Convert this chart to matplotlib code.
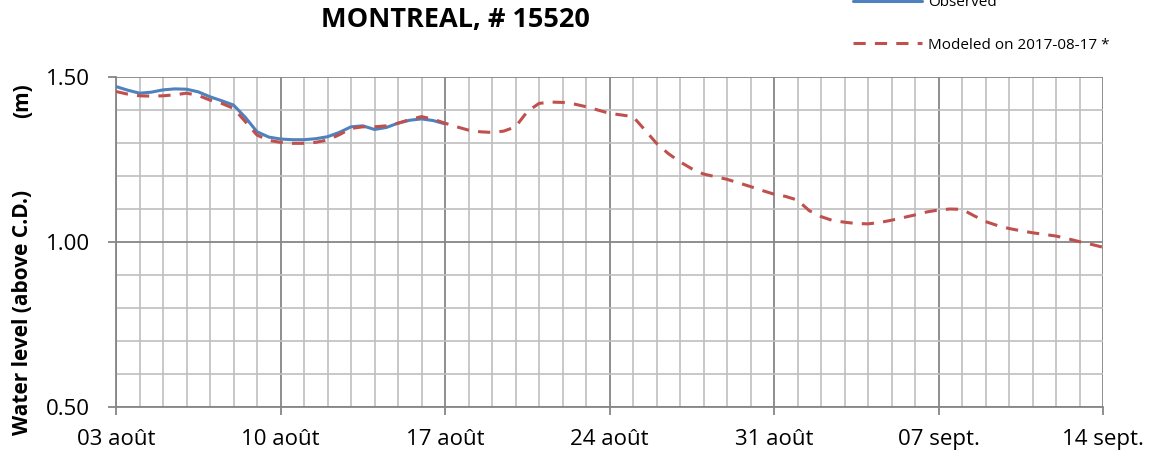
import matplotlib.pyplot as plt
import numpy as np

plt.rcParams['font.family'] = ['Open Sans', 'DejaVu Sans']

# jours depuis le 03 août
obs_days = [0, 0.5, 1, 1.5, 2, 2.5, 3, 3.5, 4, 4.5, 5, 5.5, 6, 6.5, 7, 7.5, 8, 8.5, 9, 9.5,
            10, 10.5, 11, 11.5, 12, 12.5, 13, 13.5, 14]
obs_level = [1.471, 1.460, 1.451, 1.454, 1.461, 1.464, 1.463, 1.455, 1.440, 1.428, 1.415, 1.378,
             1.334, 1.318, 1.312, 1.310, 1.310, 1.313, 1.319, 1.332, 1.349, 1.352, 1.341, 1.347,
             1.360, 1.369, 1.373, 1.368, 1.358]

mod_days = [0, 0.5, 1, 1.5, 2, 2.5, 3, 3.5, 4, 4.5, 5, 5.5, 6, 6.5, 7, 7.5, 8, 8.5, 9, 9.5,
            10, 10.5, 11, 11.5, 12, 12.5, 13, 13.5, 14, 14.5, 15, 15.5, 16, 16.5, 17, 17.5, 18, 18.5,
            19, 19.5, 20, 20.5, 21, 21.5, 22, 22.5, 23, 23.5, 24, 24.5, 25, 25.5, 26, 26.5, 27, 27.5,
            28, 28.5, 29, 29.5, 30, 30.5, 31, 31.5, 32, 32.5, 33, 33.5, 34, 34.5, 35, 35.5, 36, 36.5,
            37, 37.5, 38, 38.5, 39, 39.5, 40, 40.5, 41, 41.5, 42]
mod_level = [1.456, 1.448, 1.443, 1.442, 1.443, 1.446, 1.451, 1.444, 1.430, 1.420, 1.405, 1.365,
             1.324, 1.308, 1.302, 1.299, 1.299, 1.302, 1.309, 1.325, 1.344, 1.349, 1.349, 1.352,
             1.360, 1.371, 1.380, 1.372, 1.360, 1.349, 1.339, 1.334, 1.332, 1.336, 1.349, 1.395,
             1.420, 1.424, 1.423, 1.418, 1.410, 1.400, 1.390, 1.385, 1.380, 1.340, 1.299, 1.268,
             1.243, 1.222, 1.206, 1.198, 1.190, 1.179, 1.168, 1.156, 1.145, 1.138, 1.127, 1.095,
             1.077, 1.065, 1.060, 1.056, 1.055, 1.059, 1.066, 1.074, 1.082, 1.091, 1.097, 1.100,
             1.099, 1.080, 1.062, 1.050, 1.041, 1.034, 1.028, 1.023, 1.018, 1.010, 1.001, 0.993,
             0.984]

tick_days = [0, 7, 14, 21, 28, 35, 42]
tick_labels = ['03 août', '10 août', '17 août', '24 août', '31 août', '07 sept.', '14 sept.']

fig = plt.figure(figsize=(11.49, 4.61), dpi=100)
ax = fig.add_axes([116/1149, 1-407/461, 987/1149, 330/461])

minor_c = '#BFBFBF'
major_c = '#868686'

#grille
for d in range(0, 43):
    ax.axvline(d, color=major_c if d % 7 == 0 else minor_c, lw=1.3 if d % 7 == 0 else 1.2, zorder=1)
for v in np.arange(0.5, 1.51, 0.1):
    major = abs(v*2 - round(v*2)) < 1e-6
    ax.axhline(v, color=major_c if major else minor_c, lw=1.3 if major else 1.2, zorder=1)

l1, = ax.plot(obs_days, obs_level, color='#4F81BD', lw=2.2, zorder=3, solid_capstyle='round')
l2, = ax.plot(mod_days, mod_level, color='#C0504D', lw=2.2, ls=(0, (4, 3)), zorder=4)

ax.set_xlim(0, 42)
ax.set_ylim(0.5, 1.5)
ax.set_xticks(tick_days)
ax.set_xticklabels(tick_labels)
ax.set_yticks([0.5, 1.0, 1.5])
ax.set_yticklabels(['0.50', '1.00', '1.50'])
ax.tick_params(axis='both', labelsize=16, colors=major_c, labelcolor='black', length=5.5, width=1.3)
ax.tick_params(axis='y', pad=13)
ax.tick_params(axis='x', pad=10)
for s in ['top', 'right']:
    ax.spines[s].set_visible(False)
for s in ['left', 'bottom']:
    ax.spines[s].set_color(major_c)
    ax.spines[s].set_linewidth(1.3)

fig.text(455/1149, 1-20/461, 'MONTREAL, # 15520', ha='center', va='center', fontsize=19.5, fontweight='bold')
fig.text(23/1149, 1-312/461, 'Water level (above C.D.)', rotation=90, ha='center', va='center',
         fontsize=15, fontweight='bold')
fig.text(23/1149, 1-101/461, '(m)', rotation=90, ha='center', va='center', fontsize=15, fontweight='bold')

leg = fig.legend([l1, l2], ['Observed', 'Modeled on 2017-08-17 *'], loc='center left',
                 bbox_to_anchor=(839/1149, 1-24/461), frameon=False, fontsize=11,
                 handlelength=4.5, labelspacing=1.8, handletextpad=0.45)

plt.savefig('out.png', dpi=100)
